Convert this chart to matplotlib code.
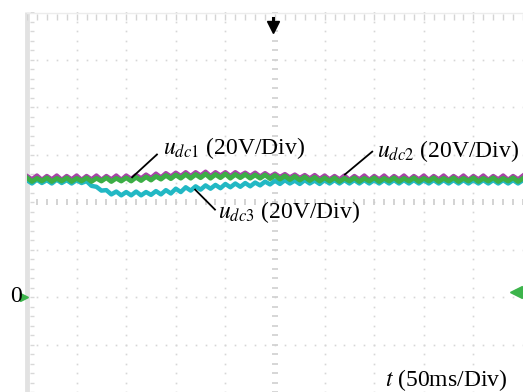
import numpy as np
import matplotlib
matplotlib.use("Agg")
import matplotlib.pyplot as plt

plt.rcParams['font.family'] = ['Liberation Serif', 'DejaVu Serif']
plt.rcParams['mathtext.fontset'] = 'stix'

# time axis in divisions (50 ms/div), samples every 0.1 div
t_div = np.round(np.arange(0, 10.01, 0.1), 2)

# voltages in divisions (20 V/div)
u_dc1 = [2.51, 2.43, 2.50, 2.44, 2.51, 2.43, 2.50, 2.44, 2.51, 2.43,
         2.50, 2.44, 2.51, 2.43, 2.50, 2.44, 2.51, 2.43, 2.50, 2.44,
         2.51, 2.44, 2.52, 2.45, 2.53, 2.46, 2.54, 2.48, 2.56, 2.49,
         2.57, 2.50, 2.58, 2.50, 2.58, 2.51, 2.59, 2.50, 2.58, 2.51,
         2.59, 2.50, 2.58, 2.51, 2.58, 2.50, 2.57, 2.50, 2.57, 2.49,
         2.56, 2.48, 2.55, 2.47, 2.54, 2.46, 2.53, 2.45, 2.52, 2.44,
         2.51, 2.44, 2.51, 2.43, 2.50, 2.44, 2.51, 2.43, 2.50, 2.44,
         2.51, 2.43, 2.50, 2.44, 2.51, 2.43, 2.50, 2.44, 2.51, 2.43,
         2.50, 2.44, 2.51, 2.43, 2.50, 2.44, 2.51, 2.43, 2.50, 2.44,
         2.51, 2.43, 2.50, 2.44, 2.51, 2.43, 2.50, 2.44, 2.51, 2.43, 2.50]

u_dc2 = [2.55, 2.48, 2.56, 2.47, 2.55, 2.48, 2.56, 2.47, 2.55, 2.48,
         2.56, 2.47, 2.55, 2.48, 2.56, 2.47, 2.55, 2.48, 2.56, 2.47,
         2.56, 2.49, 2.57, 2.50, 2.58, 2.51, 2.60, 2.52, 2.61, 2.54,
         2.62, 2.55, 2.63, 2.55, 2.63, 2.56, 2.64, 2.55, 2.63, 2.56,
         2.63, 2.55, 2.63, 2.56, 2.62, 2.55, 2.62, 2.54, 2.61, 2.54,
         2.60, 2.53, 2.59, 2.52, 2.58, 2.51, 2.57, 2.50, 2.57, 2.49,
         2.56, 2.48, 2.55, 2.48, 2.56, 2.47, 2.55, 2.48, 2.56, 2.47,
         2.55, 2.48, 2.56, 2.47, 2.55, 2.48, 2.56, 2.47, 2.55, 2.48,
         2.56, 2.47, 2.55, 2.48, 2.56, 2.47, 2.55, 2.48, 2.56, 2.47,
         2.55, 2.48, 2.56, 2.47, 2.55, 2.48, 2.56, 2.47, 2.55, 2.48, 2.56]

u_dc3 = [2.46, 2.39, 2.47, 2.40, 2.46, 2.39, 2.47, 2.40, 2.46, 2.39,
         2.46, 2.40, 2.44, 2.34, 2.32, 2.24, 2.25, 2.16, 2.22, 2.14,
         2.21, 2.14, 2.22, 2.14, 2.21, 2.15, 2.23, 2.16, 2.25, 2.18,
         2.28, 2.21, 2.31, 2.24, 2.33, 2.26, 2.35, 2.28, 2.36, 2.29,
         2.38, 2.31, 2.39, 2.32, 2.40, 2.33, 2.41, 2.35, 2.43, 2.37,
         2.45, 2.38, 2.46, 2.39, 2.45, 2.38, 2.46, 2.39, 2.45, 2.38,
         2.46, 2.39, 2.46, 2.39, 2.46, 2.39, 2.46, 2.39, 2.46, 2.39,
         2.46, 2.39, 2.46, 2.39, 2.46, 2.39, 2.46, 2.39, 2.46, 2.39,
         2.46, 2.39, 2.46, 2.39, 2.46, 2.39, 2.46, 2.39, 2.46, 2.39,
         2.46, 2.39, 2.46, 2.39, 2.46, 2.39, 2.46, 2.39, 2.46, 2.39, 2.46]

fig = plt.figure(figsize=(5.23, 3.92), dpi=100)
ax = fig.add_axes([27 / 523, 0, 496 / 523, 380 / 392])
ax.set_xlim(0, 10)
ax.set_ylim(-2, 6)
ax.axis('off')

grid_c = '#d6d6d6'
fine_x = np.arange(0, 10.01, 0.2)
fine_y = np.arange(-2, 6.01, 0.2)

# dotted graticule
for gx in range(1, 10):
    if gx == 5:
        continue
    ax.plot(np.full(len(fine_y), gx), fine_y, ls='none', marker='s', ms=1.2, color=grid_c, mew=0)
for gy in range(-1, 6):
    if gy == 2:
        continue
    ax.plot(fine_x, np.full(len(fine_x), gy), ls='none', marker='s', ms=1.2, color=grid_c, mew=0)

# centre lines with tick marks
ax.plot(np.full(len(fine_y), 5), fine_y, ls='none', marker='_', ms=4, mew=1.2, color='#d0d0d0')
ax.plot(fine_x, np.full(len(fine_x), 2), ls='none', marker='|', ms=4, mew=1.2, color='#cccccc')

# border: left bar and top ticks
ax.plot([0, 0], [-2, 6], color='#e2e2e2', lw=3.5, solid_capstyle='butt', clip_on=False)
ax.plot(np.full(len(fine_y), 0.1), fine_y, ls='none', marker='_', ms=3.5, mew=1, color='#d8d8d8')
ax.plot([0, 10], [5.98, 5.98], color='#ececec', lw=1)
ax.plot(fine_x, np.full(len(fine_x), 5.9), ls='none', marker='|', ms=4, mew=1, color='#d4d4d4')

# traces
ax.plot(t_div, u_dc3, color='#22b8c4', lw=3.2)
ax.plot(t_div, u_dc2, color='#a843a8', lw=3.0)
ax.plot(t_div, u_dc1, color='#3cae46', lw=3.4)

# markers: ground level and trigger
ax.plot([-0.06], [0], marker='>', ms=6, color='#3cb44b', clip_on=False, ls='none')
ax.plot([9.85], [0.1], marker='<', ms=8, color='#3cb44b', clip_on=False, ls='none')
ax.plot([9.87, 10.0], [0.1, 0.1], color='#3cb44b', lw=3, clip_on=False)
ax.plot([4.95], [5.68], marker='v', ms=8, color='black', ls='none')
ax.plot([4.95, 4.95], [5.72, 5.88], color='black', lw=2.2)

# annotations
fs = 17
ax.plot([2.12, 2.62], [2.52, 3.00], color='black', lw=1.3)
ax.text(2.74, 3.14, r'$u_{dc\mathrm{1}}$ (20V/Div)', fontsize=fs, ha='left', va='center')
ax.plot([6.41, 6.96], [2.58, 3.06], color='black', lw=1.3)
ax.text(7.06, 3.08, r'$u_{dc\mathrm{2}}$ (20V/Div)', fontsize=fs, ha='left', va='center')
ax.plot([3.39, 3.79], [2.26, 1.84], color='black', lw=1.3)
ax.text(3.85, 1.78, r'$u_{dc\mathrm{3}}$ (20V/Div)', fontsize=fs, ha='left', va='center')
ax.text(7.22, -1.74, r'$t$ (50ms/Div)', fontsize=fs, ha='left', va='center')
ax.text(-0.1, 0.0, '0', fontsize=17, ha='right', va='center', clip_on=False)

fig.savefig('out.png', dpi=100)
